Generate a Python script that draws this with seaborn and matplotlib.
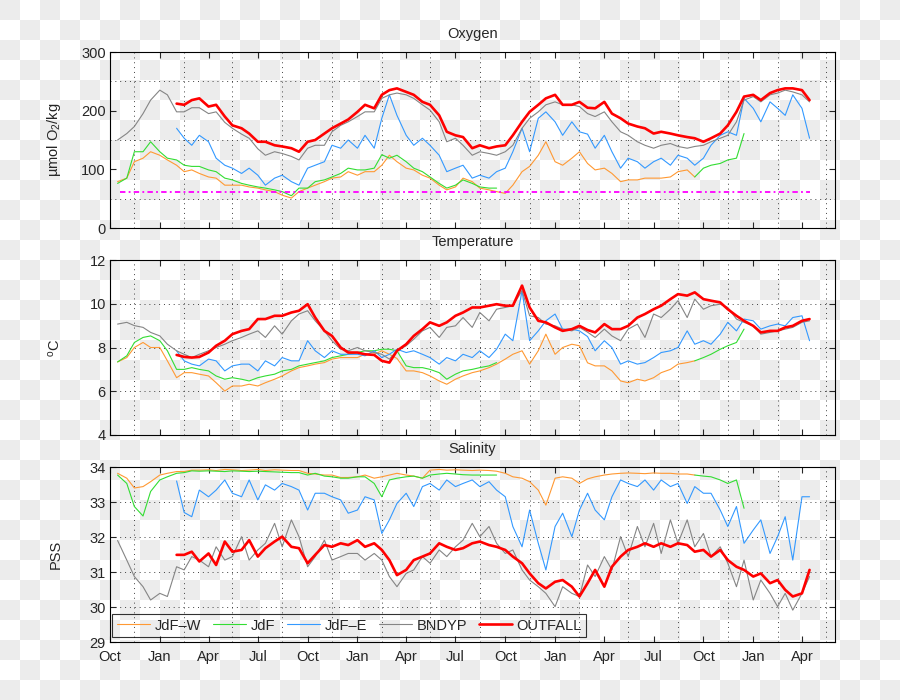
import numpy as np
import pandas as pd
import matplotlib
matplotlib.use("Agg")
import matplotlib.pyplot as plt
import matplotlib.dates as mdates
from matplotlib.lines import Line2D
from matplotlib.ticker import FixedLocator
import seaborn as sns


# semi-monthly sampling (1st and 15th), Oct 2009 .. Apr 2013
dates = pd.date_range("2009-10-01", "2013-04-15", freq="SMS")

stations = ["JdF\u2013W", "JdF", "JdF\u2013E", "BNDYP", "OUTFALL"]

# ---- Oxygen (umol/kg) ----
o2_jdfw = (
    [None, 79, 85, 113, 119, 130]
    + [124, 116, 107, 96, 99, 93, 87, 85, 73, 73, 73, 70, 68, 65, 62, 56, 51, 62, 68, 73, 79, 85, 87, 96]
    + [90, 96, 96, 107, 124, 113, 102, 99, 90, 85, 73, 65, 70, 85, 79, 68, 65, 62, 59, 73, 96, 105, 124, 147]
    + [113, 107, 119, 130, 110, 99, 102, 93, 79, 82, 82, 85, 85, 85, 87, 96, 99, 87] + [None] * 6
    + [None] * 8
)
o2_jdf = (
    [None, 76, 85, 130, 130, 147]
    + [130, 119, 116, 107, 105, 105, 99, 96, 85, 82, 76, 73, 70, 68, 65, 62, 55, 68, 68, 79, 82, 87, 93, 102]
    + [99, 99, 102, 125, 119, 124, 113, 102, 96, 87, 76, 68, 73, 82, 76, 70, 68, 68] + [None] * 6
    + [None] * 17 + [87, 102, 107, 110, 116, 119, 161]
    + [None] * 8
)
o2_jdfe = (
    [None] * 6
    + [None, None, 170, 153, 141, 158, 147, 119, 107, 102, 93, 102, 90, 73, 85, 90, 79, 73, 102, 107, 113, 141, 136, 150]
    + [136, 158, 136, 187, 227, 192, 158, 141, 153, 141, 124, 96, 102, 107, 85, 90, 85, 96, 102, 130, 170, 130, 187, 198]
    + [181, 158, 181, 164, 160, 136, 158, 130, 102, 119, 113, 102, 113, 119, 107, 124, 119, 107, 119, 141, 158, 164, 158, 221]
    + [204, 181, 215, 204, 192, 227, 204, 153]
)
o2_bndyp = (
    [None, 150, 161, 173, 195, 218]
    + [235, 227, 198, 198, 205, 205, 195, 198, 180, 170, 160, 153, 135, 124, 130, 127, 122, 116, 136, 141, 141, 164, 175, 181]
    + [190, 198, 198, 221, 227, 230, 227, 221, 210, 201, 181, 147, 153, 141, 124, 130, 127, 124, 130, 141, 170, 187, 198, 210]
    + [215, 210, 210, 207, 195, 190, 198, 181, 164, 158, 147, 141, 136, 141, 144, 139, 136, 139, 141, 147, 153, 158, 181, 218]
    + [224, 215, 227, 230, 235, 232, 227, 215]
)
o2_outfall = (
    [None] * 6
    + [None, None, 212, 210, 218, 221, 207, 210, 190, 175, 170, 161, 147, 147, 141, 139, 136, 130, 147, 150, 161, 170, 178, 185]
    + [198, 210, 204, 227, 235, 238, 232, 227, 215, 210, 192, 164, 158, 155, 136, 141, 136, 139, 141, 158, 181, 198, 210, 221]
    + [227, 210, 210, 215, 205, 204, 215, 195, 187, 178, 173, 170, 161, 164, 161, 158, 155, 153, 147, 153, 161, 175, 198, 224]
    + [227, 218, 230, 235, 238, 238, 235, 218]
)

# hypoxia threshold line
hypoxia_dates = ["2009-10-20", "2013-04-15"]
hypoxia_level = [62, 62]

# ---- Temperature (deg C) ----
t_jdfw = (
    [None, 7.34, 7.54, 8.0, 8.23, 8.0]
    + [8.0, 7.39, 6.62, 6.85, 6.85, 6.78, 6.7, 6.39, 6.01, 6.24, 6.24, 6.32, 6.24, 6.39, 6.55, 6.7, 6.93, 7.08, 7.16, 7.24, 7.31, 7.47, 7.54, 7.54]
    + [7.54, 7.69, 7.69, 7.85, 7.69, 7.5, 6.93, 6.93, 6.85, 6.7, 6.47, 6.32, 6.55, 6.7, 6.85, 6.93, 7.08, 7.24, 7.47, 7.69, 7.85, 7.24, 7.85, 8.61]
    + [7.69, 8.0, 8.15, 8.08, 7.3, 7.16, 7.16, 6.93, 6.47, 6.39, 6.55, 6.47, 6.62, 6.85, 7.0, 7.24, 7.31, 7.39] + [None] * 6
    + [None] * 8
)
t_jdf = (
    [None, 7.34, 7.62, 8.23, 8.46, 8.53]
    + [8.31, 7.85, 7.0, 7.0, 7.08, 7.0, 6.93, 6.7, 6.55, 6.62, 6.55, 6.47, 6.62, 6.7, 6.78, 6.93, 7.0, 7.16, 7.24, 7.31, 7.39, 7.54, 7.62, 7.69]
    + [7.77, 7.85, 7.85, 7.92, 7.92, 7.85, 7.16, 7.08, 7.08, 7.0, 6.85, 6.55, 6.78, 6.93, 7.0, 7.08, 7.16, 7.31] + [None] * 6
    + [None] * 17 + [7.39, 7.54, 7.69, 7.92, 8.08, 8.23, 8.84]
    + [None] * 8
)
t_jdfe = (
    [None] * 6
    + [None, None, 7.85, 7.39, 7.24, 7.16, 7.47, 7.39, 6.93, 7.16, 7.24, 7.24, 6.93, 7.39, 7.16, 7.54, 7.39, 7.39, 8.31, 7.85, 7.54, 7.85, 7.69, 7.69]
    + [7.69, 7.62, 7.85, 7.54, 7.69, 7.92, 7.77, 7.85, 7.69, 7.54, 7.24, 7.54, 7.39, 7.69, 7.54, 7.85, 7.54, 7.92, 8.61, 8.31, 10.6, 8.31, 8.76, 9.22]
    + [9.53, 8.84, 8.84, 8.76, 8.5, 7.85, 8.31, 8.0, 7.24, 7.39, 7.24, 7.31, 7.54, 7.77, 7.85, 8.0, 8.76, 8.15, 8.31, 8.15, 8.61, 9.15, 8.76, 9.3]
    + [9.22, 8.84, 8.99, 9.07, 8.99, 9.37, 9.45, 8.31]
)
t_bndyp = (
    [None, 9.07, 9.15, 9.0, 8.92, 8.69]
    + [8.53, 8.15, 7.85, 7.69, 7.54, 7.69, 7.85, 8.0, 8.15, 8.31, 8.46, 8.61, 8.76, 8.46, 8.99, 8.61, 9.22, 9.53, 9.68, 9.22, 8.76, 8.31, 7.92, 7.85]
    + [8.0, 7.85, 7.77, 7.69, 7.47, 7.85, 8.08, 8.38, 8.76, 8.92, 8.46, 8.92, 8.99, 9.37, 8.92, 9.6, 9.22, 9.75, 9.83, 9.91, 10.6, 9.45, 9.37, 9.07]
    + [8.99, 8.84, 8.76, 8.92, 8.7, 8.46, 8.84, 8.53, 8.31, 8.84, 9.07, 8.46, 9.53, 9.37, 9.75, 10.14, 9.37, 10.21, 9.75, 9.91, 9.98, 9.83, 9.3, 9.15]
    + [8.99, 8.61, 8.69, 8.76, 8.84, 8.92, 9.15, 9.22]
)
t_outfall = (
    [None] * 6
    + [None, None, 7.66, 7.57, 7.54, 7.57, 7.77, 8.08, 8.31, 8.61, 8.76, 8.84, 9.3, 9.3, 9.45, 9.45, 9.6, 9.68, 9.98, 9.37, 8.76, 8.53, 8.0, 7.77]
    + [7.77, 7.69, 7.66, 7.39, 7.31, 7.85, 8.15, 8.53, 8.84, 9.15, 8.99, 9.15, 9.45, 9.6, 9.83, 9.83, 9.91, 9.98, 9.91, 9.91, 10.83, 9.83, 9.22, 9.15]
    + [8.92, 8.76, 8.84, 8.99, 8.8, 8.69, 9.07, 8.84, 8.84, 8.99, 9.37, 9.53, 9.75, 9.91, 10.21, 10.44, 10.37, 10.52, 10.21, 10.14, 10.06, 9.75, 9.45, 9.22]
    + [8.99, 8.69, 8.76, 8.76, 8.92, 8.99, 9.22, 9.3]
)

# ---- Salinity (PSS) ----
s_jdfw = (
    [None, 33.82, 33.68, 33.4, 33.44, 33.58]
    + [33.77, 33.82, 33.87, 33.87, 33.91, 33.91, 33.92, 33.9, 33.93, 33.92, 33.9, 33.91, 33.93, 33.9, 33.92, 33.91, 33.9, 33.9, 33.82, 33.8, 33.77, 33.77, 33.7, 33.7]
    + [33.72, 33.77, 33.68, 33.72, 33.77, 33.82, 33.77, 33.74, 33.68, 33.91, 33.93, 33.91, 33.92, 33.91, 33.9, 33.91, 33.9, 33.88, 33.82, 33.72, 33.68, 33.58, 33.34, 32.91]
    + [33.68, 33.72, 33.68, 33.53, 33.66, 33.72, 33.77, 33.8, 33.82, 33.83, 33.82, 33.81, 33.83, 33.82, 33.82, 33.8, 33.8, 33.77] + [None] * 6
    + [None] * 8
)
s_jdf = (
    [None, 33.77, 33.53, 32.87, 32.6, 33.3]
    + [33.63, 33.72, 33.82, 33.84, 33.89, 33.88, 33.89, 33.88, 33.87, 33.89, 33.88, 33.87, 33.88, 33.87, 33.86, 33.85, 33.84, 33.84, 33.77, 33.82, 33.74, 33.72, 33.68, 33.68]
    + [33.72, 33.72, 33.53, 33.15, 33.63, 33.68, 33.72, 33.74, 33.68, 33.77, 33.8, 33.82, 33.8, 33.78, 33.77, 33.77, 33.77, 33.77] + [None] * 6
    + [None] * 17 + [33.77, 33.74, 33.72, 33.63, 33.53, 33.63, 32.82]
    + [None] * 8
)
s_jdfe = (
    [None] * 6
    + [None, None, 33.6, 32.7, 32.58, 33.34, 33.15, 33.34, 33.63, 33.25, 33.15, 33.63, 33.06, 33.49, 33.34, 33.53, 33.44, 33.34, 32.77, 33.25, 33.25, 33.15, 33.06, 32.68]
    + [32.77, 33.15, 33.06, 32.1, 32.49, 32.96, 33.25, 32.87, 33.44, 33.53, 33.34, 33.63, 33.44, 33.53, 33.63, 33.44, 33.58, 33.34, 33.15, 32.3, 31.72, 32.77, 31.82, 31.06]
    + [32.3, 32.68, 32.01, 32.77, 33.25, 32.77, 32.49, 33.15, 33.63, 33.53, 33.44, 33.63, 33.34, 33.63, 33.44, 33.53, 32.96, 33.44, 33.25, 33.25, 32.77, 32.3, 32.87, 31.82]
    + [32.2, 32.49, 31.53, 32.01, 32.58, 31.34, 33.15, 33.15]
)
s_bndyp = (
    [None, 31.9, 31.34, 30.87, 30.58, 30.2]
    + [30.39, 30.3, 31.15, 31.06, 31.44, 31.34, 31.15, 31.72, 31.34, 31.44, 32.01, 31.34, 31.63, 31.82, 32.39, 31.72, 32.49, 32.01, 31.15, 31.44, 31.91, 31.34, 31.44, 31.53]
    + [31.53, 31.34, 31.53, 31.34, 30.87, 30.58, 30.96, 31.06, 31.44, 31.25, 31.63, 31.44, 31.72, 31.91, 32.39, 32.01, 32.3, 31.82, 31.53, 31.63, 31.06, 30.77, 30.58, 30.39]
    + [30.01, 30.58, 30.39, 30.3, 31.2, 30.87, 31.44, 31.06, 32.01, 31.44, 32.3, 31.72, 32.39, 31.53, 32.49, 31.82, 32.49, 31.72, 32.1, 31.44, 31.72, 31.25, 30.58, 31.34]
    + [30.2, 30.77, 30.39, 30.01, 30.39, 29.91, 30.39, 30.87]
)
s_outfall = (
    [None] * 6
    + [None, None, 31.49, 31.49, 31.58, 31.3, 31.53, 31.2, 31.87, 31.58, 31.63, 31.91, 31.44, 31.68, 31.87, 32.01, 31.72, 31.68, 31.25, 31.49, 31.77, 31.72, 31.82, 31.77]
    + [31.91, 31.72, 31.82, 31.63, 31.34, 30.91, 31.06, 31.34, 31.44, 31.53, 31.82, 31.72, 31.63, 31.68, 31.82, 31.87, 31.77, 31.72, 31.63, 31.44, 31.25, 30.96, 30.68, 30.53]
    + [30.72, 30.77, 30.58, 30.3, 30.68, 31.06, 30.58, 31.15, 31.44, 31.63, 31.72, 31.82, 31.72, 31.82, 31.72, 31.82, 31.77, 31.58, 31.63, 31.44, 31.63, 31.34, 31.15, 31.06]
    + [30.87, 30.96, 30.68, 30.77, 30.49, 30.3, 30.39, 31.06]
)

colors = {
    "JdF\u2013W": "#FF9933",
    "JdF": "#33DD33",
    "JdF\u2013E": "#3399FF",
    "BNDYP": "#858585",
    "OUTFALL": "#FF0000",
}
widths = {
    "JdF\u2013W": 0.8,
    "JdF": 0.8,
    "JdF\u2013E": 0.8,
    "BNDYP": 0.8,
    "OUTFALL": 1.9,
}


def long_frame(series):
    # one row per sample, gaps split into separate segments
    rows = []
    for name, values in zip(stations, series):
        seg = 0
        for d, v in zip(dates, values):
            if v is None:
                seg += 1
                continue
            rows.append({"date": d, "value": v, "station": name,
                         "seg": f"{name}-{seg}"})
    return pd.DataFrame(rows)


def style_axes(ax, ylim, yticks, title, ylabel, show_x):
    ax.set_facecolor("none")
    ax.set_xlim(pd.Timestamp("2009-10-01"), pd.Timestamp("2013-06-01"))
    ax.set_ylim(*ylim)
    ax.set_yticks(yticks)
    ax.xaxis.set_major_locator(mdates.MonthLocator(bymonth=(1, 4, 7, 10)))
    ax.xaxis.set_major_formatter(mdates.DateFormatter("%b"))
    ax.xaxis.set_minor_locator(mdates.MonthLocator(bymonth=(2, 5, 8, 11), bymonthday=15))
    ax.tick_params(which="major", direction="in", top=True, right=True,
                   length=4, width=0.8, labelsize=10.5, pad=3)
    ax.tick_params(axis="x", which="major", pad=6)
    ax.tick_params(which="minor", length=0)
    ax.tick_params(axis="x", labelbottom=show_x)
    ax.grid(which="minor", axis="x", color="0.25", linestyle=(0, (1, 4)), linewidth=0.7)
    ax.set_title(title, fontsize=10.5, pad=10)
    ax.set_xlabel("")
    ax.set_ylabel(ylabel, fontsize=10.5)
    ax.yaxis.set_label_coords(-0.065, 0.5)
    for sp in ax.spines.values():
        sp.set_color("black")
        sp.set_linewidth(0.8)


def main():
    sns.set_theme(style="ticks")
    plt.rcParams["font.family"] = ["Liberation Sans", "DejaVu Sans"]
    plt.rcParams["mathtext.default"] = "regular"

    fig = plt.figure(figsize=(9, 7), dpi=100)
    fig.patch.set_facecolor("white")

    # transparent-background checkerboard seen in the reference
    jj, ii = np.indices((700, 900))
    checker = np.where(((ii // 20) + (jj // 20)) % 2 == 0, 0.925, 1.0)
    fig.figimage(checker, cmap="gray", vmin=0, vmax=1, zorder=-10)

    left, width = 110 / 900, 725 / 900
    ax_o = fig.add_axes([left, 1 - 228 / 700, width, 176 / 700])
    ax_t = fig.add_axes([left, 1 - 435 / 700, width, 175 / 700])
    ax_s = fig.add_axes([left, 1 - 642 / 700, width, 175 / 700])

    panels = [
        (ax_o, [o2_jdfw, o2_jdf, o2_jdfe, o2_bndyp, o2_outfall]),
        (ax_t, [t_jdfw, t_jdf, t_jdfe, t_bndyp, t_outfall]),
        (ax_s, [s_jdfw, s_jdf, s_jdfe, s_bndyp, s_outfall]),
    ]
    for ax, series in panels:
        df = long_frame(series)
        sns.lineplot(
            data=df, x="date", y="value",
            hue="station", hue_order=stations, palette=colors,
            size="station", size_order=stations, sizes=widths,
            units="seg", estimator=None, sort=False,
            legend=False, ax=ax
        )

    hyp = pd.DataFrame({"date": pd.to_datetime(hypoxia_dates), "value": hypoxia_level})
    sns.lineplot(data=hyp, x="date", y="value", color="#FF00FF", linewidth=1.3,
                 linestyle=(0, (3, 1.8, 1, 1.8)), ax=ax_o)

    style_axes(ax_o, (0, 300), [0, 100, 200, 300], "Oxygen",
               "\u00b5mol O$_2$/kg", False)
    ax_o.yaxis.set_minor_locator(FixedLocator([50, 150, 250]))
    ax_o.grid(which="minor", axis="y", color="0.25", linestyle=(0, (1, 4)), linewidth=0.7)

    style_axes(ax_t, (4, 12), [4, 6, 8, 10, 12], "Temperature",
               "$^o$C", False)
    ax_t.grid(which="major", axis="y", color="0.25", linestyle=(0, (1, 4)), linewidth=0.7)

    style_axes(ax_s, (29, 34), [29, 30, 31, 32, 33, 34], "Salinity",
               "PSS", True)
    ax_s.grid(which="major", axis="y", color="0.25", linestyle=(0, (1, 4)), linewidth=0.7)

    handles = [Line2D([], [], color=colors[n], linewidth=widths[n]) for n in stations]
    leg = ax_s.legend(
        handles, stations, loc="lower left", bbox_to_anchor=(0.003, 0.029),
        ncol=5, fontsize=10.5, frameon=True, fancybox=False,
        edgecolor="black", facecolor="none", borderaxespad=0,
        handlelength=2.3, handletextpad=0.3, columnspacing=0.8,
        borderpad=0.3
    )
    leg.get_frame().set_linewidth(0.8)

    fig.savefig("out.png", dpi=100)
    plt.close(fig)


if __name__ == "__main__":
    main()
